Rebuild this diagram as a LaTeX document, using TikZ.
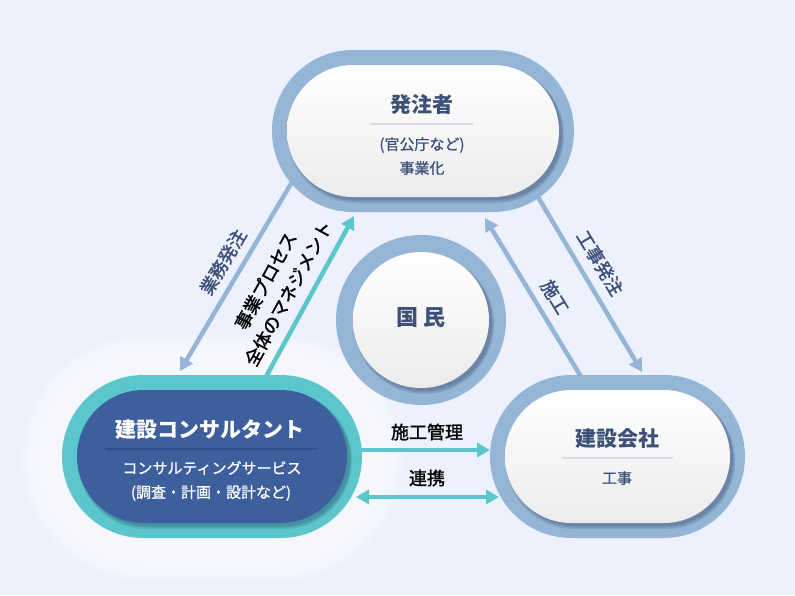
\documentclass[tikz,border=0pt]{standalone}
\usepackage{fontspec}
\setmainfont{Noto Sans CJK JP}
\newfontfamily\labfont{Noto Sans CJK JP}[FakeBold=1.6]
\newfontfamily\subfont{Noto Sans CJK JP}[FakeBold=0.8]
\usetikzlibrary{arrows.meta,shapes.misc,backgrounds}
\definecolor{bgc}{RGB}{237,240,253}
\definecolor{ringc}{RGB}{148,181,213}
\definecolor{tealc}{RGB}{91,198,204}
\definecolor{navyc}{RGB}{62,95,157}
\definecolor{txtc}{RGB}{60,80,120}
\definecolor{sepc}{RGB}{214,218,226}
\definecolor{navysep}{RGB}{48,78,136}
\definecolor{boxbot}{RGB}{236,236,238}
\definecolor{shadc}{RGB}{30,45,80}
\begin{document}
\begin{tikzpicture}[x=1pt,y=-1pt,
  ringbox/.style={rounded rectangle, fill=ringc, draw=none, inner sep=0pt},
  whitefill/.style={draw=none, inner sep=0pt, top color=white, bottom color=boxbot},
  navyfill/.style={draw=none, inner sep=0pt, fill=navyc},
  softshadow/.style={draw=none, inner sep=0pt, fill=shadc, fill opacity=0.13},
  glowlayer/.style={rounded rectangle, draw=none, inner sep=0pt, fill=white, fill opacity=0.1},
  ttl/.style={font=\fontsize{21}{24}\selectfont\bfseries, text=txtc, inner sep=0pt},
  subt/.style={font=\fontsize{15}{17}\subfont, text=txtc, inner sep=0pt},
  lab/.style={font=\fontsize{18}{26}\labfont, inner sep=0pt},
  blueline/.style={draw=ringc, line width=4.5pt},
  tealline/.style={draw=tealc, line width=4.5pt},
  arrowtip/.tip={Triangle[length=13pt,width=14pt]}
]
\useasboundingbox (0,0) rectangle (795,595);
\begin{scope}[on background layer]
  \fill[bgc] (0,0) rectangle (795,595);
  \foreach \i in {1,...,22} {
    \node[glowlayer, minimum width={300pt+4pt*\i}, minimum height={163pt+4pt*\i}] (glow\i) at (212,458) {};
  }
\end{scope}

% top node
\node[ringbox, minimum width=302pt, minimum height=162pt] (topring) at (423,131) {};
\node[rounded rectangle, softshadow, minimum width=272pt, minimum height=132pt] (topsh1) at (426,134) {};
\node[rounded rectangle, softshadow, minimum width=274pt, minimum height=134pt] (topsh2) at (426,134.5) {};
\node[rounded rectangle, softshadow, minimum width=276pt, minimum height=136pt] (topsh3) at (426,135) {};
\node[rounded rectangle, whitefill, minimum width=272pt, minimum height=132pt] (top) at (423,131) {};
\node[ttl] (topttl) at (422,105) {発注者};
\draw[sepc, line width=1.5pt] (370,124) -- (473,124);
\node[subt] (topsub1) at (422,145) {(官公庁など)};
\node[subt] (topsub2) at (422,168) {事業化};

% left node
\node[rounded rectangle, fill=tealc, draw=none, inner sep=0pt, minimum width=300pt, minimum height=163pt] (leftring) at (212,456.5) {};
\node[rounded rectangle, softshadow, minimum width=270pt, minimum height=133pt] (leftsh1) at (215,459.5) {};
\node[rounded rectangle, softshadow, minimum width=272pt, minimum height=135pt] (leftsh2) at (215,460) {};
\node[rounded rectangle, softshadow, minimum width=274pt, minimum height=137pt] (leftsh3) at (215,460.5) {};
\node[rounded rectangle, navyfill, minimum width=270pt, minimum height=133pt] (left) at (212,456.5) {};
\node[ttl, text=white] (leftttl) at (210,430) {建設コンサルタント};
\draw[navysep, line width=1.2pt] (105,449) -- (317,449);
\node[subt, text=white] (leftsub1) at (212,468) {コンサルティングサービス};
\node[subt, text=white] (leftsub2) at (211,493) {(調査・計画・設計など)};

% right node
\node[ringbox, minimum width=255pt, minimum height=163pt] (rightring) at (617.5,456.5) {};
\node[rounded rectangle, softshadow, minimum width=225pt, minimum height=133pt] (rightsh1) at (620.5,459.5) {};
\node[rounded rectangle, softshadow, minimum width=227pt, minimum height=135pt] (rightsh2) at (620.5,460) {};
\node[rounded rectangle, softshadow, minimum width=229pt, minimum height=137pt] (rightsh3) at (620.5,460.5) {};
\node[rounded rectangle, whitefill, minimum width=225pt, minimum height=133pt] (right) at (617.5,456.5) {};
\node[ttl] (rightttl) at (617,439) {建設会社};
\draw[sepc, line width=1.5pt] (562,458) -- (673,458);
\node[subt] (rightsub) at (617,478) {工事};

% center circle
\node[circle, fill=ringc, draw=none, inner sep=0pt, minimum size=170pt] (kring) at (421,320) {};
\node[circle, softshadow, minimum size=136pt] (ksh1) at (424,323) {};
\node[circle, softshadow, minimum size=138pt] (ksh2) at (424,323.5) {};
\node[circle, softshadow, minimum size=140pt] (ksh3) at (424,324) {};
\node[circle, whitefill, minimum size=136pt] (kokumin) at (421,320) {};
\node[ttl, font=\fontsize{22}{24}\selectfont\bfseries] (kttl) at (421,318) {国 民};

% connector end points
\coordinate (gyA) at (292,182); \coordinate (gyB) at (180,371);
\coordinate (mgA) at (262,384); \coordinate (mgB) at (354,216);
\coordinate (skA) at (583,380); \coordinate (skB) at (485,218);
\coordinate (kjA) at (535,192); \coordinate (kjB) at (642,372);
\coordinate (kkA) at (350,450); \coordinate (kkB) at (490,450);
\coordinate (rkA) at (356,497); \coordinate (rkB) at (499,497);

\begin{scope}[on background layer]
  \draw[blueline, -arrowtip] (gyA) -- (gyB);
  \draw[tealline, -arrowtip] (mgA) -- (mgB);
  \draw[blueline, -arrowtip] (skA) -- (skB);
  \draw[blueline, -arrowtip] (kjA) -- (kjB);
  \draw[tealline, -arrowtip] (kkA) -- (kkB);
  \draw[tealline, arrowtip-arrowtip] (rkA) -- (rkB);
\end{scope}

% labels
\node[lab, text=txtc, rotate=59.3] (lgy) at (223,262) {業務発注};
\node[lab, align=center, rotate=61.4] (lmg) at (277,287) {事業プロセス\\全体のマネジメント};
\node[lab, text=txtc, rotate=-58.8] (lsk) at (555,297) {施工};
\node[lab, text=txtc, rotate=-59] (lkj) at (600,263) {工事発注};
\node[lab] (lkk) at (427,432) {施工管理};
\node[lab] (lrk) at (427,478) {連携};
\end{tikzpicture}
\end{document}
